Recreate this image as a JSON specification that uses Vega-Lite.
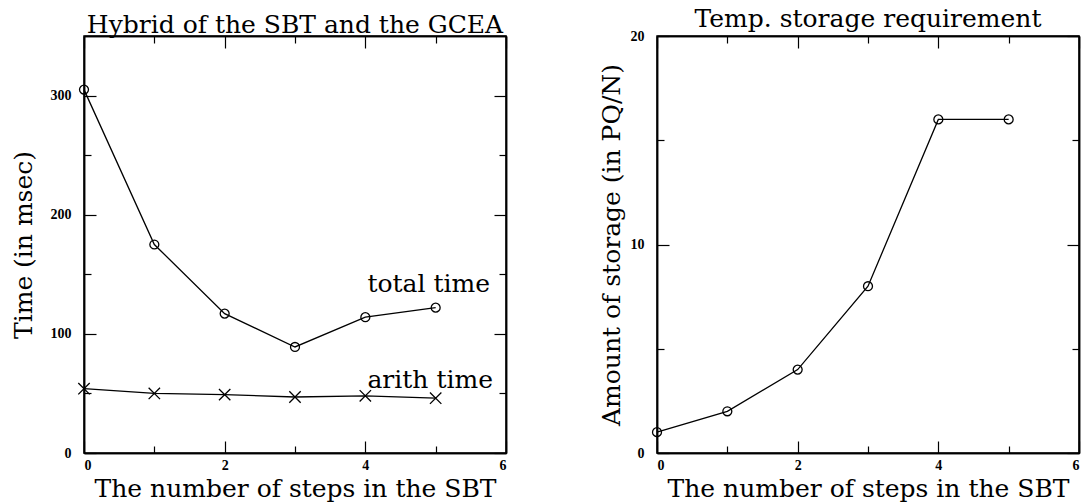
{
  "$schema": "https://vega.github.io/schema/vega-lite/v6.json",
  "background": "white",
  "padding": {"left": 10, "top": 6, "right": 0, "bottom": 0},
  "spacing": 90,
  "config": {
    "view": {"stroke": "black", "strokeWidth": 1.5},
    "font": "DejaVu Serif",
    "axis": {
      "grid": false,
      "domainColor": "black",
      "domainWidth": 1.5,
      "tickColor": "black",
      "tickWidth": 1.2,
      "labelFont": "Liberation Serif",
      "labelFontSize": 14,
      "labelFontWeight": "bold",
      "labelColor": "black",
      "titleFont": "DejaVu Serif",
      "titleFontSize": 25,
      "titleFontWeight": "normal",
      "titleColor": "black"
    },
    "title": {"font": "DejaVu Serif", "fontSize": 25, "fontWeight": "normal", "color": "black", "offset": -3}
  },
  "datasets": {
    "timing": [
      {"steps": 0, "total": 305, "arith": 54},
      {"steps": 1, "total": 175, "arith": 50},
      {"steps": 2, "total": 117, "arith": 49},
      {"steps": 3, "total": 89, "arith": 47},
      {"steps": 4, "total": 114, "arith": 48},
      {"steps": 5, "total": 122, "arith": 46}
    ],
    "storage": [
      {"steps": 0, "amount": 1},
      {"steps": 1, "amount": 2},
      {"steps": 2, "amount": 4},
      {"steps": 3, "amount": 8},
      {"steps": 4, "amount": 16},
      {"steps": 5, "amount": 16}
    ]
  },
  "hconcat": [
    {
      "width": 422,
      "height": 417,
      "title": "Hybrid of the SBT and the GCEA",
      "resolve": {"axis": {"x": "independent", "y": "independent"}},
      "layer": [
        {
          "data": {"name": "timing"},
          "transform": [{"fold": ["total", "arith"], "as": ["series", "time"]}],
          "mark": {"type": "line", "color": "black", "strokeWidth": 1.3},
          "encoding": {
            "x": {"field": "steps", "type": "quantitative", "scale": {"domain": [0, 6], "nice": false},
              "axis": {"orient": "bottom", "values": [0, 2, 4, 6], "tickSize": -12,
                "labelPadding": 17, "title": "The number of steps in the SBT", "titlePadding": 4}},
            "y": {"field": "time", "type": "quantitative", "scale": {"domain": [0, 350], "nice": false},
              "axis": {"orient": "left", "values": [0, 100, 200, 300], "tickSize": -12,
                "labelPadding": 25, "title": "Time (in msec)", "titlePadding": 14}},
            "detail": {"field": "series"}
          }
        },
        {
          "data": {"name": "timing"},
          "transform": [{"fold": ["total", "arith"], "as": ["series", "time"]}],
          "mark": {"type": "point", "filled": false, "color": "black", "strokeWidth": 1.3, "opacity": 1},
          "encoding": {
            "x": {"field": "steps", "type": "quantitative", "axis": null},
            "y": {"field": "time", "type": "quantitative", "axis": null},
            "shape": {"field": "series", "type": "nominal", "legend": null,
              "scale": {"domain": ["total", "arith"], "range": ["circle", "M-1,-1L1,1M-1,1L1,-1"]}},
            "size": {"field": "series", "type": "nominal", "legend": null,
              "scale": {"domain": ["total", "arith"], "range": [80, 130]}}
          }
        },
        {
          "data": {"name": "timing"},
          "mark": {"type": "point", "opacity": 0},
          "encoding": {
            "x": {"field": "steps", "type": "quantitative",
              "axis": {"orient": "top", "values": [0, 2, 4, 6], "labels": false, "title": null, "tickSize": -12}},
            "y": {"field": "total", "type": "quantitative",
              "axis": {"orient": "right", "values": [0, 100, 200, 300], "labels": false, "title": null, "tickSize": -12}}
          }
        },
        {
          "data": {"name": "timing"},
          "mark": {"type": "point", "opacity": 0},
          "encoding": {
            "x": {"field": "steps", "type": "quantitative",
              "axis": {"orient": "bottom", "values": [1, 3, 5], "labels": false, "title": null, "tickSize": -7}},
            "y": {"field": "total", "type": "quantitative",
              "axis": {"orient": "left", "values": [50, 150, 250], "labels": false, "title": null, "tickSize": -7}}
          }
        },
        {
          "data": {"name": "timing"},
          "mark": {"type": "point", "opacity": 0},
          "encoding": {
            "x": {"field": "steps", "type": "quantitative",
              "axis": {"orient": "top", "values": [1, 3, 5], "labels": false, "title": null, "tickSize": -7}},
            "y": {"field": "total", "type": "quantitative",
              "axis": {"orient": "right", "values": [50, 150, 250], "labels": false, "title": null, "tickSize": -7}}
          }
        },
        {
          "data": {"values": [{"label": "total time"}]},
          "mark": {"type": "text", "align": "left", "baseline": "alphabetic", "font": "DejaVu Serif", "fontSize": 25, "color": "black"},
          "encoding": {
            "x": {"datum": 4.03, "type": "quantitative", "axis": null},
            "y": {"datum": 135, "type": "quantitative", "axis": null},
            "text": {"field": "label"}
          }
        },
        {
          "data": {"values": [{"label": "arith time"}]},
          "mark": {"type": "text", "align": "left", "baseline": "alphabetic", "font": "DejaVu Serif", "fontSize": 25, "color": "black"},
          "encoding": {
            "x": {"datum": 4.03, "type": "quantitative", "axis": null},
            "y": {"datum": 54.6, "type": "quantitative", "axis": null},
            "text": {"field": "label"}
          }
        }
      ]
    },
    {
      "width": 422,
      "height": 417,
      "title": "Temp. storage requirement",
      "data": {"name": "storage"},
      "resolve": {"axis": {"x": "independent", "y": "independent"}},
      "layer": [
        {
          "mark": {"type": "line", "color": "black", "strokeWidth": 1.3},
          "encoding": {
            "x": {"field": "steps", "type": "quantitative", "scale": {"domain": [0, 6], "nice": false},
              "axis": {"orient": "bottom", "values": [0, 2, 4, 6], "tickSize": -12,
                "labelPadding": 17, "title": "The number of steps in the SBT", "titlePadding": 4}},
            "y": {"field": "amount", "type": "quantitative", "scale": {"domain": [0, 20], "nice": false},
              "axis": {"orient": "left", "values": [0, 10, 20], "tickSize": -12,
                "labelPadding": 25, "title": "Amount of storage (in PQ/N)", "titlePadding": 6}}
          }
        },
        {
          "mark": {"type": "point", "shape": "circle", "filled": false, "color": "black", "strokeWidth": 1.3, "size": 80, "opacity": 1},
          "encoding": {
            "x": {"field": "steps", "type": "quantitative", "axis": null},
            "y": {"field": "amount", "type": "quantitative", "axis": null}
          }
        },
        {
          "mark": {"type": "point", "opacity": 0},
          "encoding": {
            "x": {"field": "steps", "type": "quantitative",
              "axis": {"orient": "top", "values": [0, 2, 4, 6], "labels": false, "title": null, "tickSize": -12}},
            "y": {"field": "amount", "type": "quantitative",
              "axis": {"orient": "right", "values": [0, 10, 20], "labels": false, "title": null, "tickSize": -12}}
          }
        },
        {
          "mark": {"type": "point", "opacity": 0},
          "encoding": {
            "x": {"field": "steps", "type": "quantitative",
              "axis": {"orient": "bottom", "values": [1, 3, 5], "labels": false, "title": null, "tickSize": -7}},
            "y": {"field": "amount", "type": "quantitative",
              "axis": {"orient": "left", "values": [5, 15], "labels": false, "title": null, "tickSize": -7}}
          }
        },
        {
          "mark": {"type": "point", "opacity": 0},
          "encoding": {
            "x": {"field": "steps", "type": "quantitative",
              "axis": {"orient": "top", "values": [1, 3, 5], "labels": false, "title": null, "tickSize": -7}},
            "y": {"field": "amount", "type": "quantitative",
              "axis": {"orient": "right", "values": [5, 15], "labels": false, "title": null, "tickSize": -7}}
          }
        }
      ]
    }
  ]
}
